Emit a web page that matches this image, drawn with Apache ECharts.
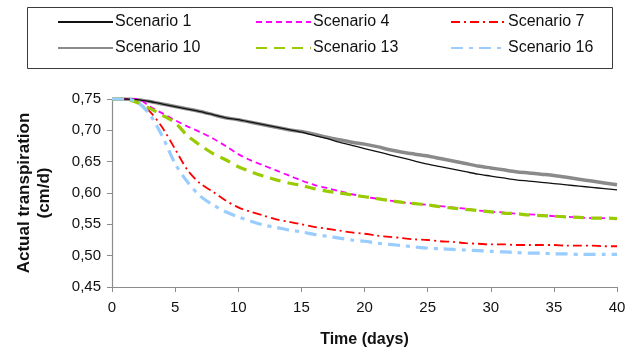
<!DOCTYPE html>
<html>
<head>
<meta charset="utf-8">
<script src="https://cdn.jsdelivr.net/npm/echarts@6/dist/echarts.min.js"></script>
<style>
  html, body { margin: 0; padding: 0; background: #fff; }
  #chart { width: 637px; height: 353px; }
</style>
</head>
<body>
<div id="chart"></div>
<script>
// temps en jours
const days = [0, 1, 2, 3, 4, 5, 6, 7, 8, 9, 10, 11, 12, 13, 14, 15, 16, 17, 18, 19, 20,
  21, 22, 23, 24, 25, 26, 27, 28, 29, 30, 31, 32, 33, 34, 35, 36, 37, 38, 39, 40];

// transpiration réelle (cm/d)
const scenario1 = [0.750, 0.750, 0.749, 0.746, 0.742, 0.738, 0.734, 0.730, 0.725, 0.720, 0.717,
  0.713, 0.709, 0.705, 0.701, 0.697, 0.692, 0.687, 0.681, 0.676, 0.671,
  0.666, 0.661, 0.656, 0.651, 0.646, 0.642, 0.638, 0.634, 0.630, 0.627,
  0.624, 0.621, 0.619, 0.617, 0.615, 0.613, 0.611, 0.609, 0.607, 0.605];
const scenario4 = [0.750, 0.750, 0.750, 0.738, 0.727, 0.716, 0.706, 0.697, 0.687, 0.675, 0.662,
  0.652, 0.644, 0.636, 0.628, 0.620, 0.613, 0.608, 0.603, 0.598, 0.594,
  0.591, 0.588, 0.585, 0.583, 0.581, 0.579, 0.577, 0.575, 0.572, 0.570,
  0.569, 0.567, 0.566, 0.565, 0.563, 0.562, 0.561, 0.560, 0.560, 0.559];
const scenario7 = [0.750, 0.750, 0.745, 0.730, 0.704, 0.670, 0.636, 0.615, 0.602, 0.588, 0.577,
  0.570, 0.564, 0.558, 0.554, 0.550, 0.546, 0.543, 0.540, 0.537, 0.535,
  0.532, 0.530, 0.528, 0.526, 0.525, 0.523, 0.522, 0.520, 0.519, 0.518,
  0.518, 0.517, 0.517, 0.517, 0.517, 0.516, 0.516, 0.516, 0.515, 0.515];
const scenario10 = [0.750, 0.750, 0.749, 0.746, 0.742, 0.738, 0.734, 0.730, 0.725, 0.720, 0.717,
  0.713, 0.709, 0.705, 0.701, 0.698, 0.694, 0.689, 0.685, 0.681, 0.678,
  0.674, 0.669, 0.665, 0.662, 0.659, 0.655, 0.651, 0.647, 0.643, 0.640,
  0.637, 0.634, 0.632, 0.630, 0.628, 0.625, 0.622, 0.619, 0.616, 0.613];
const scenario13 = [0.750, 0.750, 0.744, 0.735, 0.724, 0.712, 0.691, 0.676, 0.663, 0.653, 0.642,
  0.634, 0.627, 0.621, 0.616, 0.612, 0.607, 0.603, 0.600, 0.597, 0.594,
  0.591, 0.588, 0.585, 0.583, 0.581, 0.578, 0.576, 0.574, 0.572, 0.570,
  0.568, 0.567, 0.565, 0.564, 0.563, 0.562, 0.561, 0.560, 0.560, 0.559];
const scenario16 = [0.750, 0.750, 0.745, 0.725, 0.690, 0.647, 0.617, 0.595, 0.581, 0.570, 0.562,
  0.555, 0.549, 0.545, 0.541, 0.538, 0.534, 0.531, 0.528, 0.525, 0.523,
  0.520, 0.518, 0.516, 0.514, 0.512, 0.511, 0.510, 0.509, 0.508, 0.507,
  0.506, 0.505, 0.504, 0.504, 0.503, 0.503, 0.502, 0.502, 0.502, 0.502];

const xTicks = [0, 5, 10, 15, 20, 25, 30, 35, 40];
const yTicks = [0.45, 0.50, 0.55, 0.60, 0.65, 0.70, 0.75];

const font = "'Liberation Sans', Arial, sans-serif";
const axisGray = "#8c8c8c";

const toPairs = (vals) => days.map((d, i) => [d, vals[i]]);

// définition des séries (ordre de dessin)
const seriesDefs = [
  { name: "Scenario 10", data: scenario10, color: "#8a8a8a", width: 3.5, type: "solid", z: 2 },
  { name: "Scenario 1", data: scenario1, color: "#111111", width: 1.3, type: "solid", z: 3 },
  { name: "Scenario 4", data: scenario4, color: "#ff00ff", width: 1.8, type: [6, 4], z: 2 },
  { name: "Scenario 13", data: scenario13, color: "#99cc00", width: 3.2, type: [11, 7], z: 3 },
  { name: "Scenario 7", data: scenario7, color: "#ff0000", width: 1.8, type: [9, 4, 2, 4], z: 2 },
  { name: "Scenario 16", data: scenario16, color: "#99ccff", width: 3.2, type: [12, 6, 4, 6], z: 3 },
];

// légende en 3 colonnes (une légende verticale par colonne)
const legendColumns = [
  ["Scenario 1", "Scenario 10"],
  ["Scenario 4", "Scenario 13"],
  ["Scenario 7", "Scenario 16"],
];
const legendLeft = [57, 255, 450];

const chart = echarts.init(document.getElementById("chart"));

const option = {
  animation: false,
  textStyle: { fontFamily: font },
  grid: { left: 112, right: 20, top: 99, bottom: 66, containLabel: false },
  // cadre de la légende
  graphic: [
    {
      type: "rect",
      left: 27,
      top: 7,
      shape: { width: 585, height: 61 },
      style: { fill: "#fff", stroke: "#3a3a3a", lineWidth: 1 },
      z: -1,
      silent: true,
    },
  ],
  legend: legendColumns.map((names, i) => ({
    left: legendLeft[i],
    top: 14,
    orient: "vertical",
    padding: 0,
    itemGap: 10,
    itemWidth: 55,
    itemHeight: 14,
    itemStyle: { opacity: 0 },
    textStyle: { fontFamily: font, fontSize: 16, color: "#111", padding: [0, 0, 0, -3] },
    data: names,
  })),
  xAxis: {
    type: "value",
    min: 0,
    max: 40,
    interval: 5,
    name: "Time (days)",
    nameLocation: "middle",
    nameGap: 45,
    nameTextStyle: { fontFamily: font, fontSize: 16, fontWeight: "bold", color: "#111" },
    axisLine: { show: true, lineStyle: { color: axisGray, width: 1.2 } },
    axisTick: { show: true, length: 5, lineStyle: { color: axisGray } },
    axisLabel: {
      margin: 13,
      fontSize: 15,
      color: "#111",
      fontFamily: font,
      formatter: (v) => (xTicks.includes(v) ? String(v) : ""),
    },
    splitLine: { show: false },
  },
  yAxis: {
    type: "value",
    min: 0.45,
    max: 0.75,
    interval: 0.05,
    name: "Actual transpiration\n(cm/d)",
    nameLocation: "middle",
    nameRotate: 90,
    nameGap: 58,
    nameTextStyle: { fontFamily: font, fontSize: 17, fontWeight: "bold", color: "#111", lineHeight: 20 },
    axisLine: { show: true, lineStyle: { color: axisGray, width: 1.2 } },
    axisTick: { show: true, length: 5, lineStyle: { color: axisGray } },
    axisLabel: {
      margin: 11,
      fontSize: 15,
      color: "#111",
      fontFamily: font,
      formatter: (v) => {
        const t = yTicks.find((y) => Math.abs(y - v) < 1e-6);
        return t === undefined ? "" : t.toFixed(2).replace(".", ",");
      },
    },
    splitLine: { show: false },
  },
  series: seriesDefs.map((s) => ({
    name: s.name,
    type: "line",
    data: toPairs(s.data),
    symbol: "none",
    smooth: 0.3,
    z: s.z,
    color: s.color,
    lineStyle: { color: s.color, width: s.width, type: s.type },
  })),
};

chart.setOption(option);
</script>
</body>
</html>
